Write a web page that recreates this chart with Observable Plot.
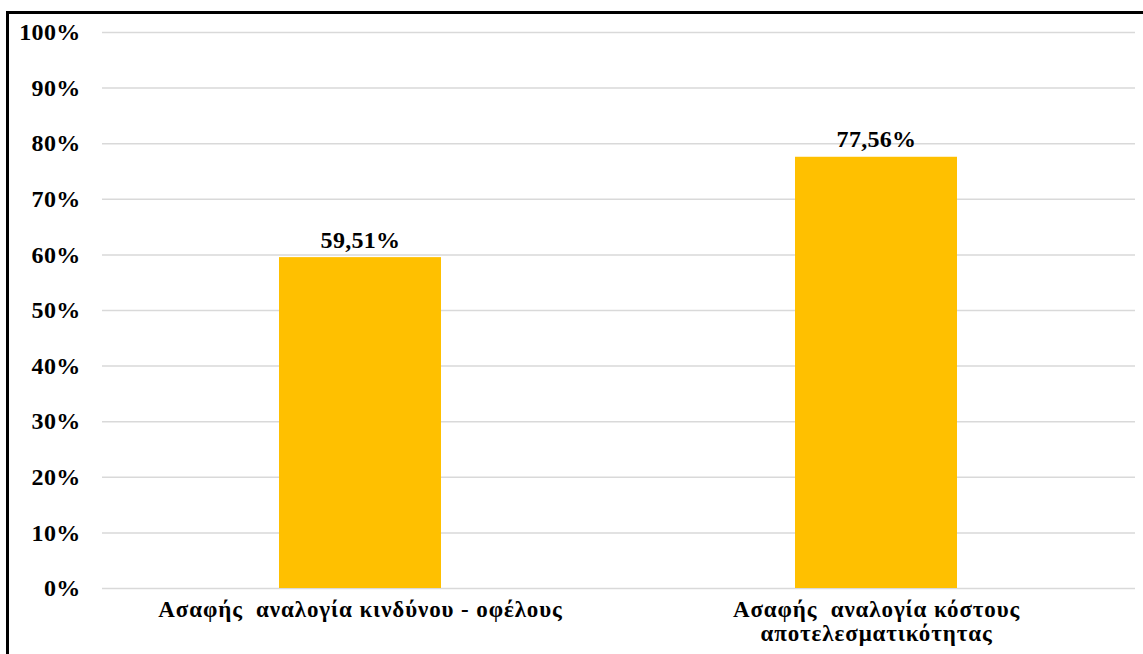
<!DOCTYPE html>
<html>
<head>
<meta charset="utf-8">
<script src="https://cdn.jsdelivr.net/npm/d3@7"></script>
<script src="https://cdn.jsdelivr.net/npm/@observablehq/plot@0.6"></script>
<style>
  html, body { margin: 0; padding: 0; background: #fff; overflow: hidden; }
  #wrap { position: relative; width: 1143px; height: 654px; }
  #frame { position: absolute; left: 6px; top: 11px; width: 1200px; height: 700px; border: 3px solid #000; box-sizing: border-box; pointer-events: none; }
  svg text { font-family: "Liberation Serif", serif !important; font-weight: bold; letter-spacing: 0.3px; }
  svg g[aria-label="x-axis tick label"] text { letter-spacing: 0.9px; }
</style>
</head>
<body>
<div id="wrap"><div id="frame"></div></div>
<script>
const categories = ["Ασαφής  αναλογία κινδύνου - οφέλους", "Ασαφής  αναλογία κόστους\nαποτελεσματικότητας"];
const values = [59.51, 77.56];
const yTicks = [0, 10, 20, 30, 40, 50, 60, 70, 80, 90, 100];

const data = categories.map((c, i) => ({category: c, value: values[i]}));
const fmt = v => v.toFixed(2).replace(".", ",") + "%";
const font = "Liberation Serif";

const chart = Plot.plot({
  width: 1143,
  height: 654,
  marginTop: 32,
  marginBottom: 66,
  marginLeft: 102,
  marginRight: 8,
  style: {fontFamily: font, fontSize: "24px", fontWeight: "bold", color: "#000", background: "transparent"},
  x: {domain: categories, paddingInner: 0.686, paddingOuter: 0.343, label: null},
  y: {domain: [0, 100], label: null},
  marks: [
    Plot.gridY(yTicks, {stroke: "#d9d9d9", strokeOpacity: 1, strokeWidth: 1.5}),
    Plot.axisY(yTicks, {tickSize: 0, tickPadding: 22, tickFormat: d => d + "%", fontSize: 24, fontFamily: font, fontWeight: "bold", label: null}),
    Plot.axisX({tickSize: 0, tickPadding: 12, fontSize: 23, fontFamily: font, fontWeight: "bold", label: null, lineHeight: 1.04}),
    Plot.barY(data, {x: "category", y: "value", fill: "#FFC000"}),
    Plot.text(data, {x: "category", y: "value", text: d => fmt(d.value), dy: -10, lineAnchor: "bottom", fontSize: 24, fontFamily: font, fontWeight: "bold", fill: "#000"})
  ]
});
document.getElementById("wrap").insertBefore(chart, document.getElementById("frame"));
</script>
</body>
</html>
